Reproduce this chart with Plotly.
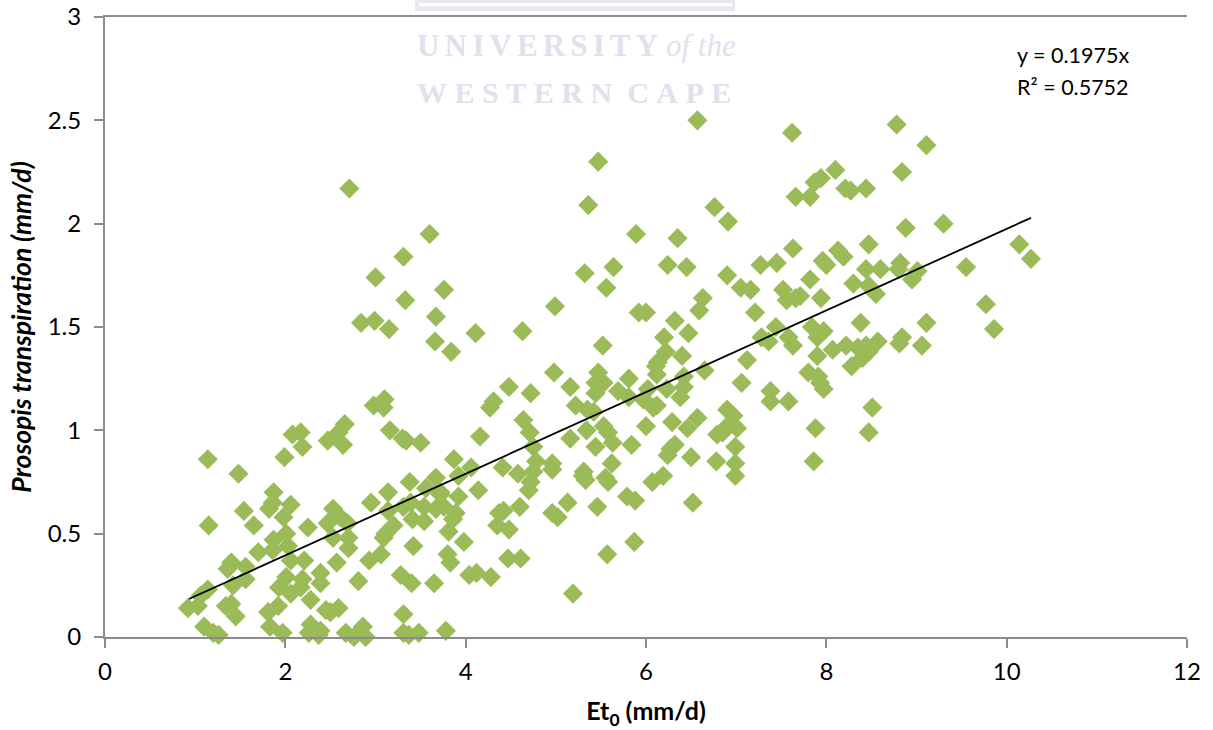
import plotly.graph_objects as go

points = [
(8.78,2.48),(6.57,2.50),(7.62,2.44),(9.11,2.38),(5.47,2.30),(2.71,2.17),(8.10,2.26),(7.94,2.22),(7.87,2.20),
(7.66,2.13),(7.82,2.13),(8.21,2.17),(8.27,2.16),(8.44,2.17),(8.84,2.25),(5.36,2.09),(6.76,2.08),(6.91,2.01),
(9.30,2.00),(8.88,1.98),(5.89,1.95),(6.35,1.93),(3.60,1.95),(3.31,1.84),(3.00,1.74),(3.76,1.68),(3.33,1.63),
(2.84,1.52),(2.99,1.53),(3.15,1.49),(3.67,1.55),(3.66,1.43),(3.84,1.38),(4.11,1.47),(4.63,1.48),(4.99,1.60),
(5.32,1.76),(5.64,1.79),(5.56,1.69),(5.92,1.57),(6.00,1.57),(6.24,1.80),(6.45,1.79),(6.63,1.64),(6.59,1.58),
(6.90,1.75),(7.05,1.69),(7.16,1.68),(7.27,1.80),(7.45,1.81),(7.63,1.88),(7.82,1.73),(7.96,1.82),(8.00,1.80),
(8.13,1.87),(8.19,1.84),(8.47,1.90),(10.14,1.90),(10.27,1.83),(9.55,1.79),(9.77,1.61),(9.86,1.49),(9.11,1.52),
(9.06,1.41),(9.01,1.77),(8.95,1.73),(8.82,1.81),(8.60,1.78),(8.44,1.78),(8.80,1.78),(8.30,1.71),(8.47,1.70),
(8.55,1.66),(7.66,1.64),(7.52,1.68),(7.71,1.65),(7.94,1.64),(7.56,1.63),
(6.32,1.53),(6.47,1.47),(6.20,1.45),(6.22,1.38),(6.40,1.36),(5.52,1.41),(7.21,1.57),(7.28,1.45),(7.36,1.43),
(7.44,1.50),(7.58,1.45),(7.63,1.41),(7.84,1.50),(7.97,1.48),(7.90,1.45),(7.90,1.36),(8.07,1.39),(7.12,1.34),
(7.06,1.23),(6.65,1.29),(7.38,1.19),(7.38,1.14),(7.58,1.14),(7.80,1.28),(7.91,1.26),(7.97,1.20),(7.93,1.23),
(7.88,1.01),(7.86,0.85),(6.13,1.33),(6.12,1.27),(6.11,1.31),(6.42,1.26),(6.42,1.21),(6.38,1.16),(6.23,1.20),
(6.02,1.20),(5.97,1.15),(6.08,1.11),(6.12,1.12),(5.81,1.25),(5.69,1.19),(5.81,1.16),(5.47,1.28),(5.53,1.23),
(5.44,1.23),(5.44,1.18),(4.98,1.28),(5.16,1.21),(5.22,1.12),(5.35,1.10),(5.42,1.09),(4.48,1.21),(4.72,1.18),
(4.31,1.14),(4.27,1.11),(4.64,1.05),(4.71,0.99),(4.16,0.97),(5.16,0.96),(5.34,1.00),(5.53,1.02),(5.58,0.99),
(5.63,0.94),(5.44,0.92),(5.84,0.93),(6.00,1.02),(6.29,1.04),(6.57,1.06),(6.46,1.01),(6.90,1.10),(6.97,1.07),
(7.01,1.01),(6.90,1.02),(6.79,0.98),(6.85,0.99),(6.99,0.92),(6.99,0.84),(6.99,0.78),(6.78,0.85),(6.50,0.87),
(6.32,0.93),(6.27,0.91),(6.24,0.88),(6.19,0.78),(6.07,0.75),(5.79,0.68),(5.88,0.66),(6.52,0.65),(5.62,0.84),
(5.55,0.77),(5.58,0.75),(5.31,0.80),(5.33,0.76),(5.30,0.78),(5.46,0.63),(5.13,0.65),(5.02,0.58),(4.96,0.60),
(4.60,0.63),(4.37,0.60),(4.42,0.61),(4.35,0.54),(4.48,0.52),(3.98,0.46),(5.87,0.46),(4.14,0.71),(4.41,0.82),
(4.58,0.79),(4.72,0.75),(4.70,0.71),(4.78,0.85),(4.75,0.92),(4.75,0.80),(4.96,0.84),(4.96,0.81),(3.87,0.86),
(4.06,0.82),(3.92,0.78),(3.92,0.68),(3.72,0.70),(3.89,0.60),(3.81,0.51),(3.76,0.63),(5.57,0.40),(5.19,0.21),
(4.61,0.38),(4.47,0.38),(4.28,0.29),(4.04,0.30),(4.12,0.31),(8.22,1.41),(8.35,1.40),(8.44,1.41),(8.47,1.38),
(8.40,1.35),(8.28,1.31),(8.38,1.52),(8.57,1.43),(8.81,1.42),(8.84,1.45),(8.51,1.11),(8.47,0.99),
(1.14,0.86),(1.48,0.79),(1.15,0.54),(1.54,0.61),(1.65,0.54),(1.99,0.87),(2.08,0.98),(2.17,0.99),(2.19,0.92),
(2.47,0.95),(2.59,0.99),(2.66,1.03),(2.64,0.93),(2.98,1.12),(3.10,1.15),(3.09,1.11),(3.16,1.00),(3.30,0.96),
(3.34,0.95),(3.50,0.94),(3.38,0.75),(3.67,0.77),(3.56,0.72),(3.14,0.70),(2.95,0.65),(3.31,0.63),(3.39,0.65),
(3.14,0.61),(3.54,0.63),(3.67,0.62),(3.72,0.69),(3.41,0.57),(3.54,0.56),(3.86,0.57),(3.80,0.40),(3.83,0.36),
(3.42,0.44),(3.20,0.54),(3.11,0.50),(3.09,0.48),(3.06,0.40),(2.93,0.37),(2.53,0.62),(2.47,0.55),(2.61,0.58),
(2.69,0.55),(2.53,0.48),(2.70,0.48),(2.70,0.43),(2.57,0.36),(2.25,0.53),(2.06,0.64),(1.87,0.70),(1.86,0.65),
(1.82,0.62),(1.98,0.58),(2.01,0.50),(1.87,0.47),(2.03,0.44),(1.86,0.42),(1.70,0.41),(1.40,0.36),(1.36,0.33),
(1.56,0.34),(1.56,0.28),(1.42,0.25),(2.06,0.37),(2.21,0.37),(2.01,0.29),(2.39,0.31),(2.39,0.26),(2.19,0.28),
(1.93,0.24),(2.06,0.21),(2.17,0.24),(2.28,0.18),(2.81,0.27),(3.28,0.30),(3.40,0.26),(3.65,0.26),(1.14,0.23),
(1.06,0.20),(0.92,0.14),(1.03,0.15),(1.34,0.15),(1.40,0.16),(1.45,0.10),(1.92,0.15),(1.81,0.12),(1.83,0.05),
(1.97,0.02),(1.10,0.05),(1.20,0.02),(1.26,0.01),(2.45,0.13),(2.59,0.14),(2.50,0.12),(2.28,0.06),(2.39,0.03),
(2.26,0.02),(2.37,0.01),(2.67,0.02),(2.86,0.05),(2.76,0.00),(2.89,0.00),(3.31,0.11),(3.31,0.02),(3.48,0.02),
(3.37,0.01),(3.78,0.03),
]
et0 = [p[0] for p in points]
transpiration = [p[1] for p in points]
trend_x = [0.93, 10.27]
slope = 0.1975
trend_y = [slope * v for v in trend_x]

FONT = "Lato"
GREY = "#8c8c8c"
WM = "#dfe1ed"
fig = go.Figure()
fig.add_trace(go.Scatter(x=et0, y=transpiration, mode="markers", cliponaxis=False,
    marker=dict(symbol="diamond", size=15.5, color="#9BBB59", line=dict(width=0))))
fig.add_trace(go.Scatter(x=trend_x, y=trend_y, mode="lines", line=dict(color="black", width=1.8)))

W, H = 1213, 730
L, R, T, B = 105, 26, 17, 93
px = lambda v: (v - L) / (W - L - R)
py = lambda v: 1 - (v - T) / (H - T - B)

h = "\u200a"
h2 = h * 2
h3 = h * 3
anns = [
 dict(x=1015, y=55, text="y = 0.1975x", color="black", size=21.5, family=FONT),
 dict(x=1015, y=87, text="R² = 0.5752", color="black", size=21.5, family=FONT),
 dict(x=415, y=46, text="<b>" + h2.join("UNIVERSITY") + "</b> <i>of the</i>", color=WM, size=31, family="Liberation Serif"),
 dict(x=415, y=93, text="<b>" + h3.join("WESTERN") + "  " + h3.join("CAPE") + "</b>", color=WM, size=30, family="Liberation Serif"),
]
for a in anns:
    fig.add_annotation(xref="paper", yref="paper", xanchor="left", yanchor="middle", showarrow=False,
        x=px(a["x"]), y=py(a["y"]), text=a["text"],
        font=dict(family=a["family"], size=a["size"], color=a["color"]))

# crest frame of the watermark, cut off at the top of the page
fig.add_shape(type="rect", xref="paper", yref="paper", layer="below",
    x0=px(415), x1=px(735), y0=py(0), y1=py(11), line=dict(width=0), fillcolor="#e6e8f2")
fig.add_shape(type="rect", xref="paper", yref="paper", layer="below",
    x0=px(419), x1=px(732), y0=py(3), y1=py(6.5), line=dict(width=0), fillcolor="white")

axis = dict(showgrid=False, zeroline=False, showline=True, linecolor=GREY, linewidth=2,
            ticks="outside", ticklen=9, tickwidth=2, tickcolor=GREY, automargin=False,
            tickfont=dict(family=FONT, size=24, color="black"))
fig.update_xaxes(range=[0, 12], tickvals=[0, 2, 4, 6, 8, 10, 12], mirror=True, ticklabelstandoff=3,
    title=dict(text="<b>Et<sub>0</sub> (mm/d)</b>", font=dict(family=FONT, size=25, color="black"), standoff=19), **axis)
fig.update_yaxes(range=[0, 3], tickvals=[0, 0.5, 1, 1.5, 2, 2.5, 3], ticktext=["0", "0.5", "1", "1.5", "2", "2.5", "3"],
    ticklabelstandoff=8,
    title=dict(text="<b><i>Prosopis transpiration (mm/d)</i></b>", font=dict(family=FONT, size=26.5, color="black"), standoff=8), **axis)
fig.update_layout(width=W, height=H, autosize=False, showlegend=False,
    margin=dict(l=L, r=R, t=T, b=B, pad=0), paper_bgcolor="white", plot_bgcolor="rgba(0,0,0,0)")
fig.write_html("out.html", config=dict(displayModeBar=False),
    post_script="document.body.style.margin='0';document.body.style.overflow='hidden';")
